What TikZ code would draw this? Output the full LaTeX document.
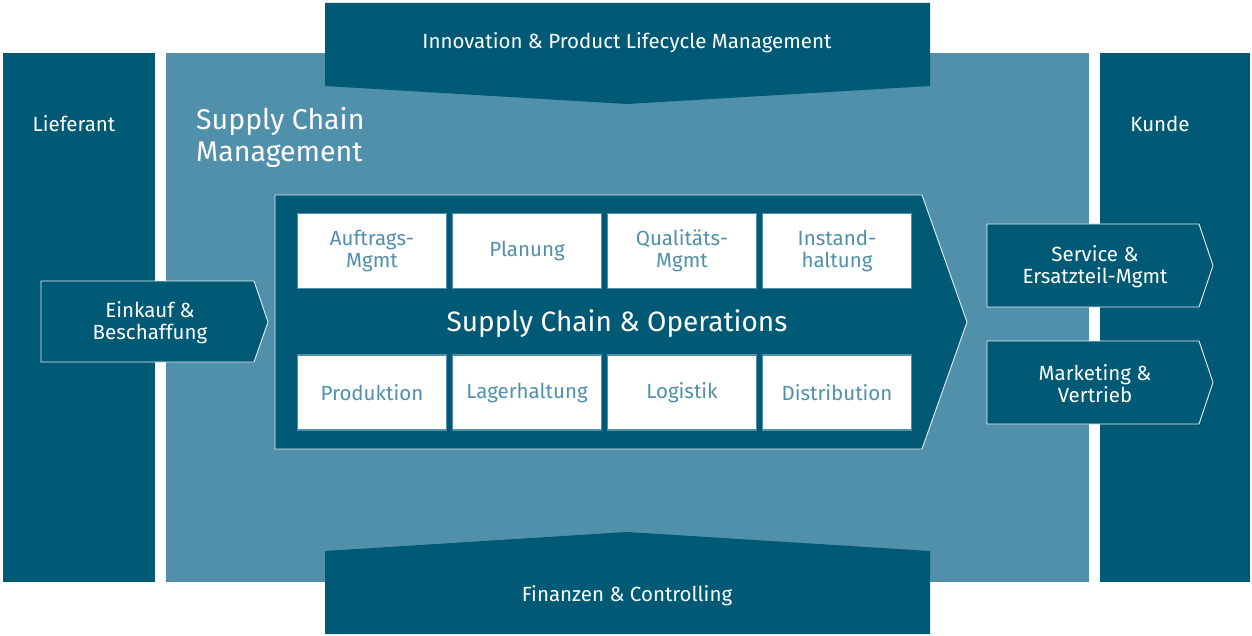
\documentclass[tikz,border=0pt]{standalone}
\usepackage{fontspec}
\setmainfont{Fira Sans}
\usetikzlibrary{calc}
\definecolor{scmdark}{RGB}{0,90,118}
\definecolor{scmlight}{RGB}{80,144,170}
\tikzset{
    arrowshape/.style={fill=scmdark, draw=white!85!scmlight, line width=0.9pt},
    taskbox/.style={draw=scmlight, line width=1.2pt, fill=white, minimum width=149pt, minimum height=75pt, inner sep=0pt, text=scmlight, font=\fontsize{20.5}{22}\selectfont, align=center},
    whitetext/.style={text=white, font=\fontsize{20.5}{22}\selectfont, align=center, inner sep=0pt},
}

\begin{document}
\begin{tikzpicture}[x=1pt,y=-1pt]
        \useasboundingbox (0,0) rectangle (1252,636);
        % columns
        \fill[scmdark] (3,53) rectangle (155,582);
        \fill[scmlight] (166,53) rectangle (1089,582);
        \fill[scmdark] (1100,53) rectangle (1250,582);

        % top and bottom banners
        \fill[scmdark] (325,3) -- (930,3) -- (930,86) -- (627,104) -- (325,86) -- cycle;
        \fill[scmdark] (325,634) -- (930,634) -- (930,551) -- (627,532) -- (325,551) -- cycle;

        % process arrows
        \filldraw[arrowshape] (275,195) -- (922,195) -- (967,322) -- (922,449) -- (275,449) -- cycle;
        \filldraw[arrowshape] (41,281) -- (254,281) -- (268,322) -- (254,362) -- (41,362) -- cycle;
        \filldraw[arrowshape] (987,224) -- (1199,224) -- (1213,265.5) -- (1199,307) -- (987,307) -- cycle;
        \filldraw[arrowshape] (987,341) -- (1199,341) -- (1213,382.5) -- (1199,424) -- (987,424) -- cycle;

        % boxes
        \node[taskbox] (auftrag) at (372,251) {Auftrags-\\Mgmt};
        \node[taskbox] (planung) at (527,251) {Planung};
        \node[taskbox] (quali) at (682,251) {Qualitäts-\\Mgmt};
        \node[taskbox] (instand) at (837,251) {Instand-\\haltung};
        \node[taskbox] (prod) at (372,392.5) {Produktion};
        \node[taskbox] (lager) at (527,392.5) {Lagerhaltung};
        \node[taskbox] (logistik) at (682,392.5) {Logistik};
        \node[taskbox] (distrib) at (837,392.5) {Distribution};

        % Text
        \node[whitetext] (lief) at (74,124) {Lieferant};
        \node[whitetext] (kunde) at (1160,124) {Kunde};
        \node[whitetext] (innov) at (627,43) {Innovation \& Product Lifecycle Management};
        \node[whitetext] (finanz) at (627,596) {Finanzen \& Controlling};
        \node[whitetext, anchor=west, align=left, font=\fontsize{28.5}{32}\selectfont] (scm) at (196,137) {Supply Chain\\Management};
        \node[whitetext, font=\fontsize{28}{30}\selectfont] (ops) at (617,324) {Supply Chain \& Operations};
        \node[whitetext] (einkauf) at (150,323) {Einkauf \&\\Beschaffung};
        \node[whitetext] (service) at (1095,267) {Service \&\\Ersatzteil-Mgmt};
        \node[whitetext] (marketing) at (1095,384) {Marketing \&\\Vertrieb};
    \end{tikzpicture}
\end{document}
